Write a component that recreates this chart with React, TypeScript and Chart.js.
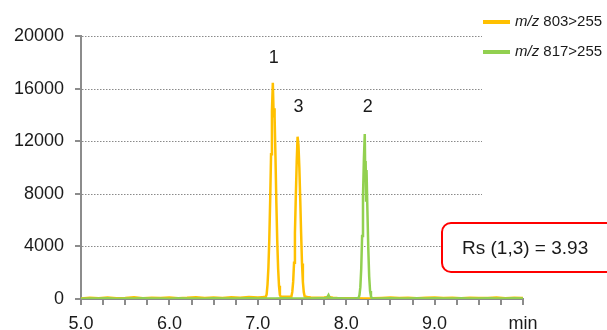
import React, { useEffect, useRef } from "react";
import { Chart, registerables } from "chart.js";

Chart.register(...registerables);

// ---- data (time in min, intensity in counts) ----
const orangeTimes = [
  5.0, 5.1, 5.2, 5.3, 5.4, 5.5, 5.6, 5.7, 5.8, 5.9, 6.0, 6.1, 6.2, 6.3, 6.4, 6.5, 6.6, 6.7, 6.8, 6.9, 7.0, 7.05,
  7.09, 7.1, 7.11, 7.12, 7.13, 7.14, 7.15, 7.16, 7.17, 7.18, 7.185, 7.19, 7.2, 7.21, 7.22, 7.23, 7.24, 7.25, 7.26,
  7.3, 7.35, 7.38, 7.39, 7.4, 7.41, 7.42, 7.43, 7.44, 7.45, 7.46, 7.47, 7.48, 7.49, 7.5, 7.51, 7.52, 7.53,
  7.56, 7.6, 7.65, 7.7, 7.75, 7.8, 7.85, 7.9, 8.0, 8.1, 8.2, 8.3, 8.4, 8.5, 8.6, 8.7, 8.8, 8.9,
  9.0, 9.1, 9.2, 9.3, 9.4, 9.5, 9.6, 9.7, 9.8, 9.9, 10.0,
];
const orangeValues = [
  40, 90, 60, 110, 50, 80, 130, 60, 100, 70, 120, 60, 90, 140, 70, 110, 80, 130, 90, 150, 110, 140,
  170, 350, 1100, 2400, 4500, 7500, 11000, 14300, 16450, 13800, 14500, 13900, 10800, 7300, 4400, 2300, 1000, 300, 170,
  180, 170, 190, 540, 1300, 2750, 5000, 7800, 10400, 12340, 11700, 10000, 7600, 5000, 2700, 1300, 530, 200,
  150, 120, 100, 90, 110, 150, 90, 70, 60, 50, 40, 50, 80, 110, 70, 100, 60, 90,
  120, 70, 90, 60, 100, 70, 80, 110, 60, 90, 70,
];

const greenTimes = [
  5.0, 5.1, 5.2, 5.3, 5.4, 5.5, 5.6, 5.7, 5.8, 5.9, 6.0, 6.1, 6.2, 6.3, 6.4, 6.5, 6.6, 6.7, 6.8, 6.9,
  7.0, 7.1, 7.2, 7.3, 7.4, 7.5, 7.6, 7.7, 7.75, 7.78, 7.79, 7.8, 7.81, 7.82, 7.9, 8.0, 8.1, 8.14,
  8.15, 8.16, 8.17, 8.18, 8.19, 8.2, 8.21, 8.215, 8.22, 8.225, 8.23, 8.24, 8.25, 8.26, 8.27, 8.28, 8.29,
  8.3, 8.4, 8.5, 8.6, 8.7, 8.8, 8.9, 9.0, 9.1, 9.2, 9.3, 9.4, 9.5, 9.6, 9.7, 9.8, 9.9, 10.0,
];
const greenValues = [
  20, 40, 30, 50, 20, 40, 30, 50, 30, 40, 20, 50, 30, 40, 20, 50, 30, 40, 30, 50,
  30, 40, 30, 50, 30, 40, 40, 50, 60, 90, 180, 300, 150, 60, 50, 40, 50, 80,
  300, 900, 2300, 4800, 7800, 10600, 12550, 9600, 10500, 7500, 9800, 6700, 3800, 1700, 600, 200, 70,
  60, 40, 50, 30, 40, 60, 30, 50, 40, 30, 50, 40, 30, 50, 40, 30, 50, 40,
];

const xMin = 5;
const xMax = 10;
const xStep = 0.25;
const yMin = 0;
const yMax = 20000;
const yStep = 4000;

const seriesNames = ["803>255", "817>255"];
const seriesColors = ["#FFC000", "#92D050"];

const peakLabels = ["1", "3", "2"];
const peakLabelTimes = [7.18, 7.46, 8.245];
const peakLabelValues = [18300, 14600, 14600];

const resolutionText = "Rs (1,3) = 3.93";

const FONT = "'Liberation Sans', Arial, sans-serif";

export default function App() {
  const ref = useRef<HTMLCanvasElement | null>(null);

  useEffect(() => {
    document.body.style.margin = "0";
    const canvas = ref.current;
    if (!canvas) return;

    const gridPlugin = {
      id: "dottedGrid",
      beforeDatasetsDraw(chart: any) {
        const { ctx, chartArea, scales } = chart;
        ctx.save();
        ctx.strokeStyle = "#8a8a8a";
        ctx.lineWidth = 1;
        ctx.setLineDash([1.5, 1.5]);
        for (let v = yMin + yStep; v <= yMax; v += yStep) {
          const y = Math.round(scales.y.getPixelForValue(v)) + 0.5;
          ctx.beginPath();
          ctx.moveTo(chartArea.left + 1, y);
          ctx.lineTo(482, y);
          ctx.stroke();
        }
        ctx.restore();
      },
    };

    const overlayPlugin = {
      id: "overlay",
      afterDraw(chart: any) {
        const { ctx, scales } = chart;
        ctx.save();
        // peak labels
        ctx.fillStyle = "#1a1a1a";
        ctx.font = `18px ${FONT}`;
        ctx.textAlign = "center";
        ctx.textBaseline = "middle";
        peakLabels.forEach((t, i) => {
          ctx.fillText(
            t,
            scales.x.getPixelForValue(peakLabelTimes[i]),
            scales.y.getPixelForValue(peakLabelValues[i])
          );
        });

        // legend
        const legendY = [22, 52];
        seriesNames.forEach((name, i) => {
          ctx.strokeStyle = seriesColors[i];
          ctx.lineWidth = 4;
          ctx.setLineDash([]);
          ctx.beginPath();
          ctx.moveTo(483, legendY[i]);
          ctx.lineTo(510, legendY[i]);
          ctx.stroke();
          ctx.fillStyle = "#1a1a1a";
          ctx.textAlign = "left";
          ctx.textBaseline = "middle";
          ctx.font = `italic 15px ${FONT}`;
          const it = "m/z";
          ctx.fillText(it, 515, legendY[i]);
          const w = ctx.measureText(it + " ").width;
          ctx.font = `15px ${FONT}`;
          ctx.fillText(name, 515 + w, legendY[i]);
        });

        // Rs box
        ctx.beginPath();
        const bx = 442, by = 223, bw = 190, bh = 49, r = 9;
        ctx.moveTo(bx + r, by);
        ctx.lineTo(bx + bw - r, by);
        ctx.arcTo(bx + bw, by, bx + bw, by + r, r);
        ctx.lineTo(bx + bw, by + bh - r);
        ctx.arcTo(bx + bw, by + bh, bx + bw - r, by + bh, r);
        ctx.lineTo(bx + r, by + bh);
        ctx.arcTo(bx, by + bh, bx, by + bh - r, r);
        ctx.lineTo(bx, by + r);
        ctx.arcTo(bx, by, bx + r, by, r);
        ctx.closePath();
        ctx.fillStyle = "#ffffff";
        ctx.fill();
        ctx.strokeStyle = "#ff0000";
        ctx.lineWidth = 2;
        ctx.stroke();
        ctx.fillStyle = "#1a1a1a";
        ctx.font = `19px ${FONT}`;
        ctx.textAlign = "left";
        ctx.textBaseline = "middle";
        ctx.fillText(resolutionText, 462, 249);
        ctx.restore();
      },
    };

    const chart = new Chart(canvas, {
      type: "line",
      data: {
        datasets: [
          {
            label: seriesNames[0],
            data: orangeTimes.map((t, i) => ({ x: t, y: orangeValues[i] })),
            borderColor: seriesColors[0],
            borderWidth: 2.5,
            pointRadius: 0,
            tension: 0,
            order: 1,
          },
          {
            label: seriesNames[1],
            data: greenTimes.map((t, i) => ({ x: t, y: greenValues[i] })),
            borderColor: seriesColors[1],
            borderWidth: 2.5,
            pointRadius: 0,
            tension: 0,
            order: 0,
          },
        ],
      },
      options: {
        responsive: false,
        animation: false,
        events: [],
        layout: { padding: { left: 0, right: 84, top: 36, bottom: 0 } },
        plugins: { legend: { display: false }, tooltip: { enabled: false }, title: { display: false } },
        scales: {
          x: {
            type: "linear",
            min: xMin,
            max: xMax,
            afterFit: (s: any) => {
              s.height = 31;
            },
            ticks: {
              stepSize: xStep,
              autoSkip: false,
              maxRotation: 0,
              padding: 8,
              color: "#1a1a1a",
              font: { family: FONT, size: 18 },
              callback: (v: any) => {
                const n = Number(v);
                if (Math.abs(n - Math.round(n)) > 1e-6) return "";
                if (Math.round(n) === xMax) return "min";
                return n.toFixed(1);
              },
            },
            grid: { drawOnChartArea: false, drawTicks: true, tickLength: 6, color: "#8c8c8c", lineWidth: 2 },
            border: { display: true, color: "#8c8c8c", width: 2 },
          },
          y: {
            min: yMin,
            max: yMax,
            afterFit: (s: any) => {
              s.width = 81;
            },
            ticks: {
              stepSize: yStep,
              padding: 11,
              color: "#1a1a1a",
              font: { family: FONT, size: 18 },
              callback: (v: any) => String(v),
            },
            grid: { drawOnChartArea: false, drawTicks: true, tickLength: 6, color: "#8c8c8c", lineWidth: 2 },
            border: { display: true, color: "#8c8c8c", width: 2 },
          },
        },
      },
      plugins: [gridPlugin, overlayPlugin],
    } as any);

    return () => chart.destroy();
  }, []);

  return (
    <div style={{ width: 607, height: 330 }}>
      <canvas ref={ref} width={607} height={330} style={{ width: 607, height: 330, display: "block" }} />
    </div>
  );
}
